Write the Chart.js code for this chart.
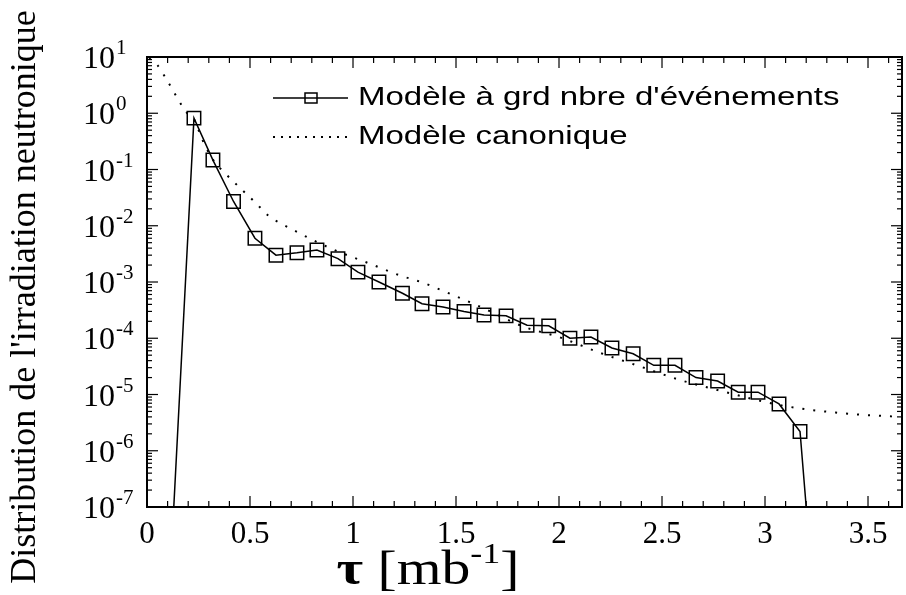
<!DOCTYPE html>
<html>
<head>
<meta charset="utf-8">
<script src="https://cdn.jsdelivr.net/npm/chart.js@4.4.0/dist/chart.umd.min.js"></script>
<style>
html, body { margin: 0; padding: 0; background: #fff; }
#wrap { width: 906px; height: 595px; }
</style>
</head>
<body>
<div id="wrap"><canvas id="mycanvas"></canvas></div>
<script>
// Modele a grd nbre d'evenements (first and last points = drop to the axis, no marker)
var tauBig  = [0.13, 0.228, 0.32, 0.42, 0.524, 0.626, 0.728, 0.825, 0.927, 1.024, 1.126, 1.24, 1.335, 1.437,
               1.539, 1.636, 1.743, 1.845, 1.95, 2.053, 2.155, 2.257, 2.36, 2.46, 2.563, 2.665, 2.77,
               2.87, 2.966, 3.068, 3.17, 3.2];
var distBig = [1e-7, 0.82, 0.147, 0.027, 0.006, 0.003, 0.0033, 0.0037, 0.0026, 0.0015, 0.001, 6.3e-4, 4.1e-4, 3.6e-4,
               3.0e-4, 2.6e-4, 2.5e-4, 1.7e-4, 1.66e-4, 1.0e-4, 1.05e-4, 6.7e-5, 5.3e-5, 3.3e-5, 3.3e-5, 2.0e-5, 1.74e-5,
               1.1e-5, 1.1e-5, 6.8e-6, 2.2e-6, 1e-7];

// Modele canonique
var tauCano  = [0.01, 0.05, 0.1, 0.15, 0.19, 0.228, 0.27, 0.32, 0.38, 0.46, 0.53, 0.59, 0.66, 0.73, 0.8, 0.91,
                1.07, 1.23, 1.33, 1.44, 1.62, 1.83, 2.0, 2.2, 2.4, 2.59, 2.77, 3.09, 3.42, 3.66];
var distCano = [9.5, 7.2, 3.7, 1.8, 1.05, 0.78, 0.33, 0.15, 0.085, 0.044, 0.025, 0.015, 0.0105, 0.0077, 0.0057, 0.0037,
                0.0022, 0.0013, 0.001, 6.9e-4, 3.6e-4, 1.6e-4, 1.05e-4, 5.5e-5, 3.1e-5, 1.8e-5, 1.2e-5, 6.3e-6, 4.5e-6, 4e-6];

var xTicks = [0, 0.5, 1, 1.5, 2, 2.5, 3, 3.5];
var yExps  = [1, 0, -1, -2, -3, -4, -5, -6, -7];
var seriesNames = ["Modèle à grd nbre d'événements", "Modèle canonique"];
var xTitleSym = "τ";
var xTitle = " [mb";
var xTitleSup = "-1";
var yTitle = "Distribution de l'irradiation neutronique";

function toPoints(xs, ys) {
  var out = [];
  for (var i = 0; i < xs.length; i++) out.push({x: xs[i], y: ys[i]});
  return out;
}

var SERIF = '"Liberation Serif", "Times New Roman", serif';

//########## frame, inward ticks, y labels, titles, legend ##########//
var decor = {
  id: 'decor',
  afterDatasetsDraw: function(chart) {
    var ctx = chart.ctx, a = chart.chartArea;
    var xs = chart.scales.x, ys = chart.scales.y;
    ctx.save();
    ctx.strokeStyle = '#000';
    ctx.lineWidth = 1.2;
    function seg(x1, y1, x2, y2) { ctx.beginPath(); ctx.moveTo(x1, y1); ctx.lineTo(x2, y2); ctx.stroke(); }
    // x ticks every 0.1, long every 0.5
    for (var k = 0; k <= Math.floor(xs.max * 10); k++) {
      var px = xs.getPixelForValue(k / 10);
      var len = (k % 5 === 0) ? 11 : 6;
      seg(px, a.bottom, px, a.bottom - len);
      seg(px, a.top, px, a.top + len);
    }
    // y ticks: decades long, 2..9 short
    for (var e = -7; e <= 0; e++) {
      for (var m = 1; m <= 9; m++) {
        var py = ys.getPixelForValue(m * Math.pow(10, e));
        var l = (m === 1) ? 11 : 5;
        seg(a.left, py, a.left + l, py);
        seg(a.right, py, a.right - l, py);
      }
    }
    // frame
    ctx.lineWidth = 2;
    ctx.strokeRect(a.left, a.top, a.right - a.left, a.bottom - a.top);

    ctx.fillStyle = '#000';

    // y tick labels 10^n
    ctx.textAlign = 'left';
    ctx.textBaseline = 'alphabetic';
    yExps.forEach(function(ex) {
      var py = ys.getPixelForValue(Math.pow(10, ex));
      ctx.font = '32px ' + SERIF;
      ctx.fillText('10', 83, py + 11);
      var w = ctx.measureText('10').width;
      ctx.font = '21px ' + SERIF;
      ctx.fillText(String(ex), 83 + w + 1, py - 3);
    });

    // legend
    ctx.lineWidth = 1.5;
    seg(273, 98, 348, 98);
    ctx.strokeRect(305, 93, 12, 10);
    ctx.setLineDash([2, 6]);
    ctx.lineWidth = 2;
    seg(273, 137, 348, 137);
    ctx.setLineDash([]);
    ctx.save();
    ctx.font = '25px "Liberation Sans", Arial, sans-serif';
    ctx.textBaseline = 'middle';
    ctx.translate(358, 0);
    ctx.scale(1.32, 1);
    ctx.fillText(seriesNames[0], 0, 98);
    ctx.fillText(seriesNames[1], 0, 137);
    ctx.restore();

    // x title (slightly stretched, like the scanned original)
    ctx.save();
    ctx.textBaseline = 'alphabetic';
    var sx = 1.2;
    ctx.font = 'bold 48px ' + SERIF;
    var w0 = ctx.measureText(xTitleSym).width;
    ctx.font = '48px ' + SERIF;
    var w1 = ctx.measureText(xTitle).width;
    ctx.font = '30px ' + SERIF;
    var w2 = ctx.measureText(xTitleSup).width;
    ctx.font = '48px ' + SERIF;
    var w3 = ctx.measureText(']').width;
    var x0 = 428 - sx * (w0 + w1 + w2 + w3) / 2;
    ctx.translate(x0, 0);
    ctx.scale(sx, 1);
    ctx.font = 'bold 48px ' + SERIF;
    ctx.fillText(xTitleSym, 0, 584);
    ctx.font = '48px ' + SERIF;
    ctx.fillText(xTitle, w0, 584);
    ctx.font = '30px ' + SERIF;
    ctx.fillText(xTitleSup, w0 + w1, 563);
    ctx.font = '48px ' + SERIF;
    ctx.fillText(']', w0 + w1 + w2, 584);
    ctx.restore();

    // y title
    ctx.translate(26, 297);
    ctx.rotate(-Math.PI / 2);
    ctx.font = '36px ' + SERIF;
    ctx.textAlign = 'center';
    ctx.textBaseline = 'middle';
    ctx.fillText(yTitle, 0, 0);
    ctx.restore();
  }
};

var ctx = document.getElementById('mycanvas');
var chart = new Chart(ctx, {
  type: 'line',
  data: {
    datasets: [
      {
        label: seriesNames[0],
        data: toPoints(tauBig, distBig),
        borderColor: '#000',
        borderWidth: 1.5,
        backgroundColor: 'rgba(0,0,0,0)',
        pointStyle: 'rect',
        pointRadius: function(c) { return (c.dataIndex === 0 || c.dataIndex === tauBig.length - 1) ? 0 : 9.5; },
        pointBorderColor: '#000',
        pointBorderWidth: 1.5,
        pointBackgroundColor: 'rgba(0,0,0,0)',
        tension: 0
      },
      {
        label: seriesNames[1],
        data: toPoints(tauCano, distCano),
        borderColor: '#000',
        borderWidth: 2,
        borderDash: [2, 9],
        pointRadius: 0,
        fill: false,
        cubicInterpolationMode: 'monotone'
      }
    ]
  },
  options: {
    responsive: true,
    maintainAspectRatio: false,
    devicePixelRatio: 1,
    animation: false,
    layout: { padding: { left: 83, right: 4, top: 57, bottom: 0 } },
    plugins: { legend: { display: false }, tooltip: { enabled: false } },
    scales: {
      x: {
        type: 'linear',
        min: 0,
        max: 3.665,
        afterBuildTicks: function(s) { s.ticks = xTicks.map(function(v){ return {value: v}; }); },
        afterFit: function(s) { s.height = 88; },
        grid: { display: false, drawTicks: false },
        border: { display: false },
        ticks: {
          autoSkip: false,
          maxRotation: 0,
          padding: 9,
          color: '#000',
          font: { family: SERIF, size: 31 },
          callback: function(v) { return String(v); }
        }
      },
      y: {
        type: 'logarithmic',
        min: 1e-7,
        max: 10,
        afterBuildTicks: function(s) { s.ticks = yExps.map(function(e){ return {value: Math.pow(10, e)}; }); },
        afterFit: function(s) { s.width = 64; },
        grid: { display: false, drawTicks: false },
        border: { display: false },
        ticks: { display: false }
      }
    }
  },
  plugins: [decor]
});
</script>
</body>
</html>
